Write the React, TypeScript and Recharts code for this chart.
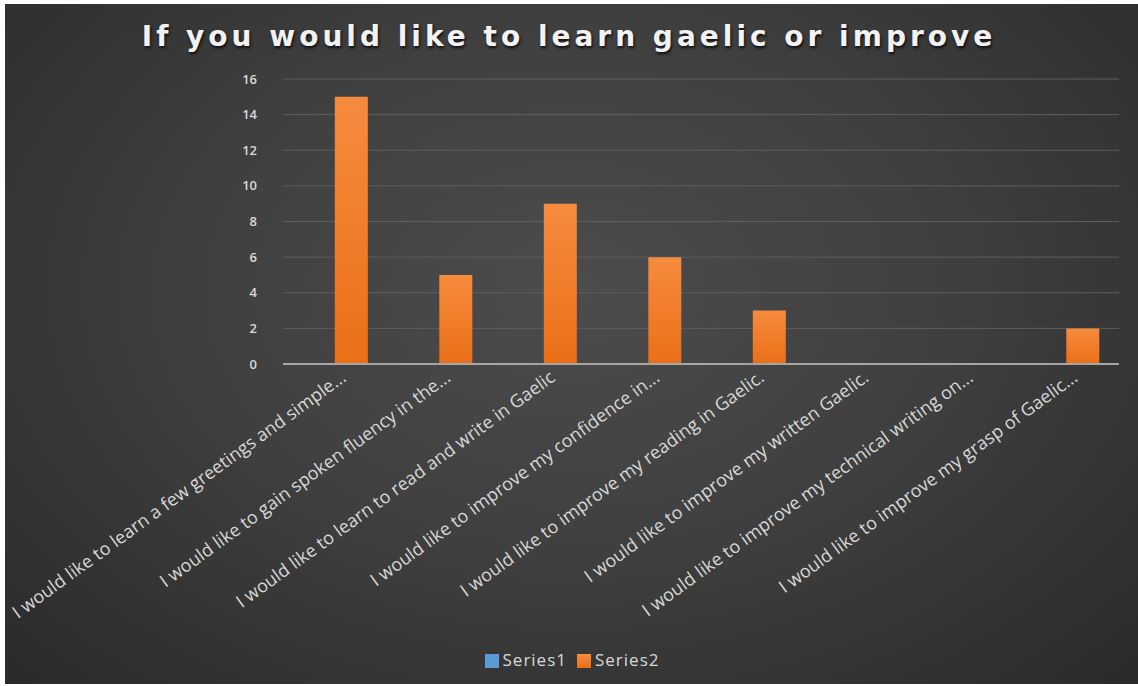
import { BarChart, Bar, XAxis, YAxis, CartesianGrid, Legend } from 'recharts';

const categories = [
  'I would like to learn a few greetings and simple...',
  'I would like to gain spoken fluency in the...',
  'I would like to learn to read and write in Gaelic',
  'I would like to improve my confidence in...',
  'I would like to improve my reading in Gaelic.',
  'I would like to improve my written Gaelic.',
  'I would like to improve my technical writing on...',
  'I would like to improve my grasp of Gaelic...',
];
const series1 = [0, 0, 0, 0, 0, 0, 0, 0];
const series2 = [15, 5, 9, 6, 3, 0, 0, 2];
const yTicks = [0, 2, 4, 6, 8, 10, 12, 14, 16];

const data = categories.map((name, i) => ({ name, Series1: series1[i], Series2: series2[i] }));

const AngledTick = (props: any) => {
  const { x, y, payload } = props;
  return (
    <text
      x={x + 12}
      y={y + 8}
      transform={`rotate(-36, ${x + 12}, ${y + 8})`}
      textAnchor="end"
      fill="#d9d9d9"
      fontSize={18}
      fontFamily="'Open Sans', sans-serif"
    >
      {payload.value}
    </text>
  );
};

export default function App() {
  return (
    <div style={{ position: 'fixed', left: 0, top: 0, width: 1138, height: 686, background: '#fff' }}>
      <div
        style={{
          position: 'absolute',
          left: 5,
          top: 4,
          width: 1133,
          height: 680,
          background: 'radial-gradient(ellipse at 50% 42%, #4c4c4c 0%, #404040 45%, #2a2a2a 100%)',
        }}
      />
      <div
        style={{
          position: 'absolute',
          left: 0,
          top: 20,
          width: 1138,
          textAlign: 'center',
          fontFamily: "'DejaVu Sans', sans-serif",
          fontWeight: 'bold',
          fontSize: 28,
          letterSpacing: 4,
          color: '#f2f2f2',
          textShadow: '1px 2px 3px rgba(0,0,0,0.8)',
        }}
      >
        If you would like to learn gaelic or improve
      </div>
      <div style={{ position: 'absolute', left: 0, top: 0 }}>
        <BarChart
          width={1138}
          height={686}
          data={data}
          margin={{ top: 79, right: 19, left: 223, bottom: 49 }}
          barCategoryGap="18%"
          barGap={0}
        >
          <defs>
            <linearGradient id="orangeFill" x1="0" y1="0" x2="0" y2="1">
              <stop offset="0%" stopColor="#f68b3e" />
              <stop offset="100%" stopColor="#ea6f17" />
            </linearGradient>
          </defs>
          <CartesianGrid vertical={false} stroke="#5e5e5e" strokeWidth={1} />
          <XAxis
            dataKey="name"
            interval={0}
            height={250}
            tick={<AngledTick />}
            tickLine={false}
            axisLine={{ stroke: '#a6a6a6', strokeWidth: 2 }}
          />
          <YAxis
            width={60}
            domain={[0, 16]}
            ticks={yTicks}
            tickLine={false}
            axisLine={false}
            tickMargin={20}
            tick={{ fill: '#d9d9d9', fontSize: 13, fontFamily: "'Open Sans', sans-serif", fontWeight: 600 }}
          />
          <Legend
            verticalAlign="bottom"
            iconType="square"
            iconSize={14}
            wrapperStyle={{
              left: 462,
              width: 230,
              top: 648,
              bottom: 'auto',
              fontFamily: "'Open Sans', sans-serif",
              fontSize: 17,
              letterSpacing: 1,
              color: '#d9d9d9',
            }}
            formatter={(value: string) => <span style={{ color: '#d9d9d9' }}>{value}</span>}
          />
          <Bar dataKey="Series1" fill="#5b9bd5" isAnimationActive={false} />
          <Bar dataKey="Series2" fill="url(#orangeFill)" legendType="square" isAnimationActive={false} />
        </BarChart>
      </div>
    </div>
  );
}
